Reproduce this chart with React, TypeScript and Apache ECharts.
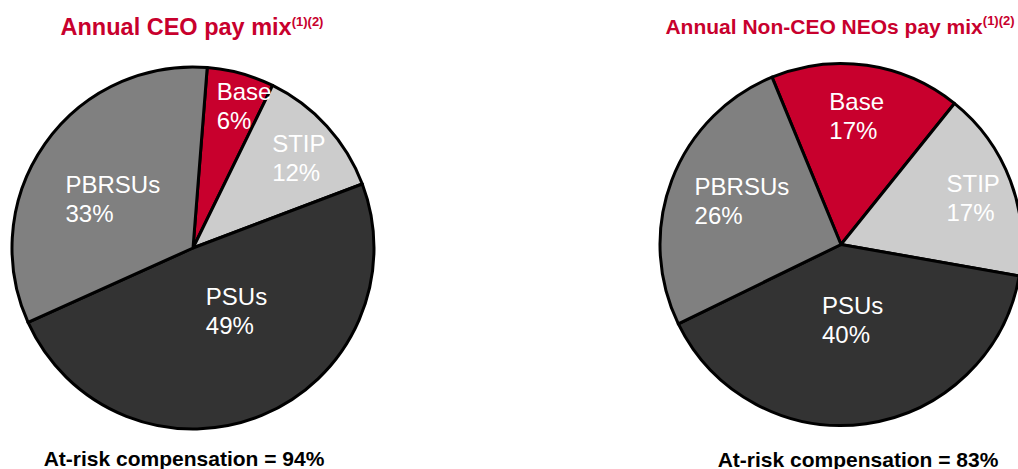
import React, { useEffect, useRef } from "react";
import * as echarts from "echarts";

const categories = ["Base", "STIP", "PSUs", "PBRSUs"];
const ceoValues = [6, 12, 49, 33];
const neoValues = [17, 17, 40, 26];
const sliceColors = ["#C8002D", "#CCCCCC", "#333333", "#808080"];
const ceoTitle = "Annual CEO pay mix";
const neoTitle = "Annual Non-CEO NEOs pay mix";
const footnoteMark = "(1)(2)";
const ceoAtRisk = "At-risk compensation = 94%";
const neoAtRisk = "At-risk compensation = 83%";

// label nudges (dx, dy) relative to ECharts' inside label anchor
const ceoLabelShift = [[-1, -52], [10, -27], [-23, -23], [-51, 5]];
const neoLabelShift = [[-25, -36], [18, -14], [-32, -17], [-59, -10]];

const FONT = "Arial, 'Liberation Sans', Helvetica, sans-serif";

function makeSeries(values: number[], center: number[], startAngle: number, shift: number[][]) {
  return {
    type: "pie",
    center,
    radius: 181,
    startAngle,
    clockwise: true,
    avoidLabelOverlap: false,
    silent: true,
    emphasis: { disabled: true },
    data: categories.map((name, i) => ({
      name,
      value: values[i],
      itemStyle: { color: sliceColors[i] },
    })),
    itemStyle: { borderColor: "#000000", borderWidth: 3 },
    label: {
      show: true,
      position: "inside",
      formatter: "{b}\n{c}%",
      color: "#FFFFFF",
      fontSize: 24,
      lineHeight: 29,
      fontFamily: FONT,
      align: "left",
    },
    labelLine: { show: false },
    labelLayout: (p: any) => ({
      dx: shift[p.dataIndex][0],
      dy: shift[p.dataIndex][1],
      align: "left",
      verticalAlign: "middle",
    }),
  };
}

function titleText(x: number, y: number, text: string, size: number) {
  return {
    type: "text",
    x,
    y,
    style: {
      text: `{m|${text}}{s|${footnoteMark}}`,
      align: "center",
      verticalAlign: "middle",
      rich: {
        m: { fontSize: size, fontWeight: "bold", fill: "#C8002D", fontFamily: FONT, lineHeight: 24 },
        s: { fontSize: 13, fontWeight: "bold", fill: "#C8002D", fontFamily: FONT, verticalAlign: "top", lineHeight: 14 },
      },
    },
  };
}

function footText(x: number, y: number, text: string) {
  return {
    type: "text",
    x,
    y,
    style: {
      text,
      align: "center",
      verticalAlign: "middle",
      fontSize: 21,
      fontWeight: "bold",
      fill: "#000000",
      fontFamily: FONT,
    },
  };
}

export default function App() {
  const ref = useRef<HTMLDivElement>(null);
  useEffect(() => {
    if (!ref.current) return;
    const chart = echarts.init(ref.current, undefined, { renderer: "svg" });
    chart.setOption({
      animation: false,
      backgroundColor: "#FFFFFF",
      series: [
        makeSeries(ceoValues, [193, 248], 85.5, ceoLabelShift),
        makeSeries(neoValues, [841, 244.5], 112.4, neoLabelShift),
      ],
      graphic: [
        titleText(192, 27, ceoTitle, 23.5),
        titleText(840, 26, neoTitle, 21),
        footText(184, 458, ceoAtRisk),
        footText(858, 459, neoAtRisk),
      ],
    });
    return () => chart.dispose();
  }, []);
  return (
    <div
      ref={ref}
      style={{ position: "absolute", left: 0, top: 0, width: 1018, height: 469 }}
    />
  );
}
